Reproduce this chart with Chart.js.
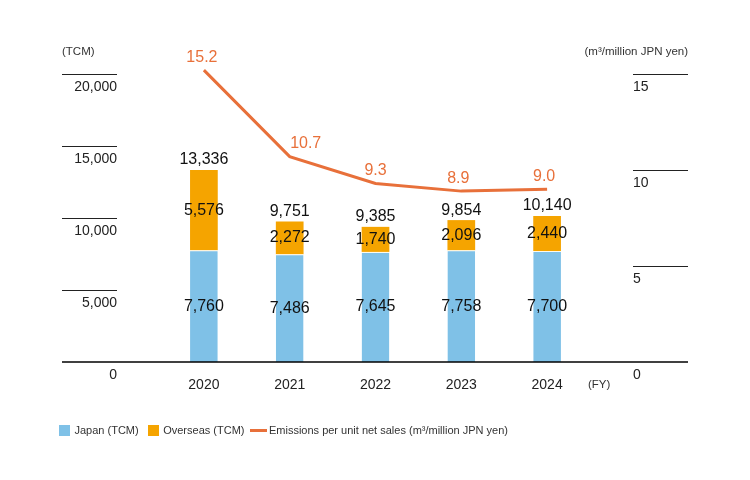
<!DOCTYPE html>
<html>
<head>
<meta charset="utf-8">
<script src="https://cdn.jsdelivr.net/npm/chart.js@4.4.1/dist/chart.umd.min.js"></script>
<style>
  html, body { margin: 0; padding: 0; background: #fff; }
  #wrap { width: 750px; height: 480px; position: relative; }
</style>
</head>
<body>
<div id="wrap"><canvas id="emissionsChart"></canvas></div>
<script>
// Data
const fiscalYears = ['2020', '2021', '2022', '2023', '2024'];
const japanTcm = [7760, 7486, 7645, 7758, 7700];
const overseasTcm = [5576, 2272, 1740, 2096, 2440];
const totalTcm = [13336, 9751, 9385, 9854, 10140];
const perNetSales = [15.2, 10.7, 9.3, 8.9, 9.0];
const leftTicks = [0, 5000, 10000, 15000, 20000];
const rightTicks = [0, 5, 10, 15];

const BLUE = '#7fc1e7';
const ORANGE = '#f5a400';
const RED = '#e8703a';
const FONT = '"Liberation Sans", Arial, Helvetica, sans-serif';

Chart.defaults.font.family = FONT;
Chart.defaults.color = '#222';

const fmt = v => v.toLocaleString('en-US');

// small canvases used as legend markers
function swatch(w, h, color) {
    const c = document.createElement('canvas');
    c.width = w;
    c.height = h;
    const g = c.getContext('2d');
    g.fillStyle = color;
    g.fillRect(0, 0, w, h);
    return c;
}
const legendMarks = [swatch(11, 11, BLUE), swatch(11, 11, ORANGE), swatch(17, 3, RED)];

// horizontal nudge for the line value labels
const lineLabelNudge = [-2, 16, 0, -3, -3];

// short tick lines beside the axes, plus the baseline
const axisRules = {
    id: 'axisRules',
    afterDatasetsDraw(chart) {
        const {ctx, chartArea, scales} = chart;
        const yl = scales.y;
        const yr = scales.y1;
        ctx.save();
        ctx.strokeStyle = '#222';
        ctx.lineWidth = 1.2;
        yl.ticks.forEach(t => {
            if (t.value === 0) return;
            const py = Math.round(yl.getPixelForValue(t.value)) + 0.5;
            ctx.beginPath();
            ctx.moveTo(yl.left + 12, py);
            ctx.lineTo(yl.right - 44, py);
            ctx.stroke();
        });
        yr.ticks.forEach(t => {
            if (t.value === 0) return;
            const py = Math.round(yr.getPixelForValue(t.value)) + 0.5;
            ctx.beginPath();
            ctx.moveTo(yr.left + 43, py);
            ctx.lineTo(yr.right - 12, py);
            ctx.stroke();
        });
        ctx.strokeStyle = '#000';
        ctx.lineWidth = 1.5;
        const by = yl.getPixelForValue(0);
        ctx.beginPath();
        ctx.moveTo(yl.left + 12, by);
        ctx.lineTo(yr.right - 12, by);
        ctx.stroke();

        // unit captions
        ctx.fillStyle = '#333';
        ctx.font = '11.5px ' + FONT;
        ctx.textBaseline = 'middle';
        ctx.textAlign = 'left';
        ctx.fillText('(TCM)', yl.left + 12, chartArea.top - 22);
        ctx.fillText('(FY)', chartArea.right - 2, scales.x.top + 23);
        ctx.textAlign = 'right';
        ctx.fillText('(m³/million JPN yen)', yr.right - 12, chartArea.top - 22);
        ctx.restore();
    }
};

// value labels on bars and line
const valueLabels = {
    id: 'valueLabels',
    afterDatasetsDraw(chart) {
        const ctx = chart.ctx;
        ctx.save();
        ctx.textAlign = 'center';
        ctx.textBaseline = 'middle';
        ctx.font = '16px ' + FONT;
        ctx.fillStyle = '#111';
        chart.getDatasetMeta(0).data.forEach((bar, i) => {
            ctx.fillText(fmt(japanTcm[i]), bar.x, (bar.y + bar.base) / 2);
        });
        chart.getDatasetMeta(1).data.forEach((bar, i) => {
            ctx.fillText(fmt(overseasTcm[i]), bar.x, (bar.y + bar.base) / 2);
            ctx.fillText(fmt(totalTcm[i]), bar.x, bar.y - 10);
        });
        ctx.fillStyle = RED;
        chart.getDatasetMeta(2).data.forEach((pt, i) => {
            ctx.fillText(perNetSales[i].toFixed(1), pt.x + lineLabelNudge[i], pt.y - 13);
        });
        ctx.restore();
    }
};

const tickFont = {size: 14, lineHeight: '26px'};

new Chart(document.getElementById('emissionsChart'), {
    data: {
        labels: fiscalYears,
        datasets: [
            {
                type: 'bar',
                label: 'Japan (TCM)',
                data: japanTcm,
                backgroundColor: BLUE,
                borderColor: '#fdfbee',
                borderWidth: {top: 1, right: 0, bottom: 0, left: 0},
                yAxisID: 'y',
                barPercentage: 0.323,
                categoryPercentage: 1
            },
            {
                type: 'bar',
                label: 'Overseas (TCM)',
                data: overseasTcm,
                backgroundColor: ORANGE,
                borderWidth: 0,
                yAxisID: 'y',
                barPercentage: 0.323,
                categoryPercentage: 1
            },
            {
                type: 'line',
                label: 'Emissions per unit net sales (m³/million JPN yen)',
                data: perNetSales,
                borderColor: RED,
                backgroundColor: RED,
                borderWidth: 3,
                pointRadius: 0,
                tension: 0,
                clip: false,
                yAxisID: 'y1'
            }
        ]
    },
    options: {
        responsive: true,
        maintainAspectRatio: false,
        animation: false,
        layout: {
            padding: {top: 74, left: 50, right: 50, bottom: 34}
        },
        scales: {
            x: {
                type: 'category',
                offset: true,
                stacked: true,
                grid: {display: false, drawTicks: false},
                border: {display: false},
                ticks: {
                    color: '#222',
                    font: {size: 14},
                    padding: 15,
                    maxRotation: 0
                },
                afterFit(s) { s.height = 53; }
            },
            y: {
                position: 'left',
                stacked: true,
                min: 0,
                max: 20000,
                grid: {display: false, drawTicks: false},
                border: {display: false},
                afterBuildTicks(s) { s.ticks = leftTicks.map(v => ({value: v})); },
                ticks: {
                    padding: 44,
                    color: '#222',
                    font: tickFont,
                    callback: v => ['', fmt(v)]
                },
                afterFit(s) { s.width = 111; }
            },
            y1: {
                position: 'right',
                min: 0,
                max: 15,
                grid: {display: false, drawTicks: false},
                border: {display: false},
                afterBuildTicks(s) { s.ticks = rightTicks.map(v => ({value: v})); },
                ticks: {
                    padding: 43,
                    color: '#222',
                    font: tickFont,
                    callback: v => ['', String(v)]
                },
                afterFit(s) { s.width = 110; }
            }
        },
        plugins: {
            tooltip: {enabled: false},
            legend: {
                position: 'bottom',
                align: 'start',
                labels: {
                    usePointStyle: true,
                    boxWidth: 9,
                    boxHeight: 11,
                    padding: 10,
                    color: '#333',
                    font: {size: 11},
                    generateLabels(chart) {
                        const items = Chart.defaults.plugins.legend.labels.generateLabels(chart);
                        items.forEach(it => {
                            it.pointStyle = legendMarks[it.datasetIndex];
                            it.lineWidth = 0;
                        });
                        return items;
                    }
                }
            }
        }
    },
    plugins: [axisRules, valueLabels]
});
</script>
</body>
</html>
